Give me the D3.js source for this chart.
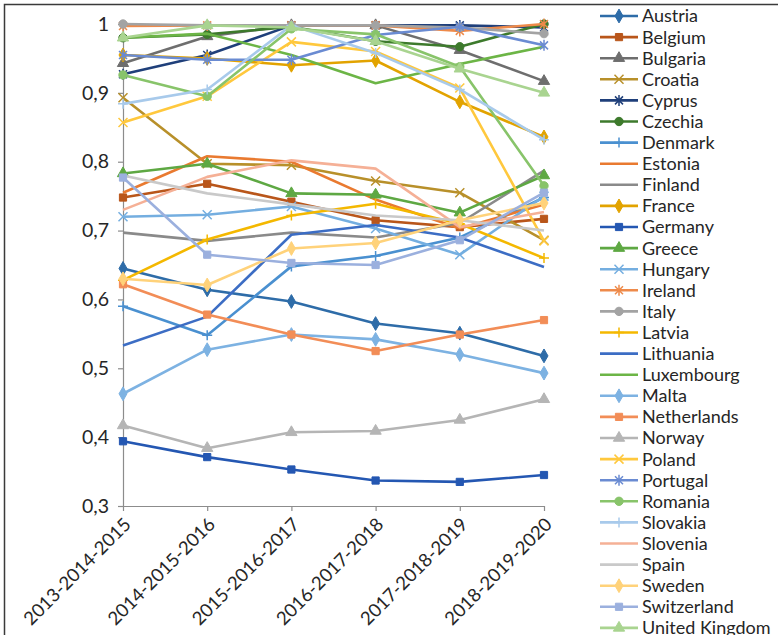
<!DOCTYPE html>
<html>
<head>
<meta charset="utf-8">
<script src="https://cdn.jsdelivr.net/npm/d3@7"></script>
<style>
  body { margin: 0; background: #ffffff; }
  svg text { font-family: Lato, "Open Sans", "Noto Sans", sans-serif; fill: #262626; }
</style>
</head>
<body>
<svg id="chart" width="778" height="635"></svg>
<script>
// Three-year rolling periods on the category axis
const periods = ["2013-2014-2015", "2014-2015-2016", "2015-2016-2017",
                 "2016-2017-2018", "2017-2018-2019", "2018-2019-2020"];

// Y axis ticks
const yTicks = [0.3, 0.4, 0.5, 0.6, 0.7, 0.8, 0.9, 1];

// Index value per country and period
const austria     = [0.645, 0.614, 0.597, 0.565, 0.551, 0.518];
const belgium     = [0.748, 0.768, 0.742, 0.715, 0.705, 0.717];
const bulgaria    = [0.943, 0.982, 0.998, 0.998, 0.962, 0.917];
const croatia     = [0.893, 0.797, 0.795, 0.772, 0.755, 0.686];
const cyprus      = [0.927, 0.955, 0.998, 0.998, 0.998, 0.995];
const czechia     = [0.980, 0.985, 0.996, 0.975, 0.967, 1.000];
const denmark     = [0.590, 0.548, 0.648, 0.663, 0.690, 0.748];
const estonia     = [0.755, 0.808, 0.800, 0.745, 0.703, 0.738];
const finland     = [0.697, 0.685, 0.697, 0.690, 0.711, 0.787];
const france      = [0.955, 0.950, 0.940, 0.947, 0.887, 0.836];
const germany     = [0.394, 0.371, 0.353, 0.337, 0.335, 0.345];
const greece      = [0.783, 0.797, 0.754, 0.752, 0.726, 0.780];
const hungary     = [0.720, 0.723, 0.735, 0.703, 0.665, 0.750];
const ireland     = [0.997, 0.998, 0.998, 0.998, 0.990, 1.000];
const italy       = [1.000, 0.998, 0.998, 0.998, 0.995, 0.986];
const latvia      = [0.628, 0.687, 0.722, 0.739, 0.710, 0.660];
const lithuania   = [0.533, 0.575, 0.694, 0.708, 0.690, 0.647];
const luxembourg  = [0.980, 0.986, 0.955, 0.914, 0.942, 0.967];
const malta       = [0.463, 0.527, 0.549, 0.542, 0.520, 0.493];
const netherlands = [0.622, 0.578, 0.549, 0.525, 0.549, 0.570];
const norway      = [0.417, 0.384, 0.407, 0.409, 0.425, 0.455];
const poland      = [0.857, 0.895, 0.974, 0.960, 0.907, 0.685];
const portugal    = [0.955, 0.948, 0.948, 0.984, 0.996, 0.969];
const romania     = [0.926, 0.895, 0.993, 0.985, 0.938, 0.765];
const slovakia    = [0.884, 0.905, 0.998, 0.958, 0.905, 0.832];
const slovenia    = [0.730, 0.778, 0.802, 0.790, 0.705, 0.727];
const spain       = [0.780, 0.754, 0.738, 0.722, 0.715, 0.700];
const sweden      = [0.630, 0.621, 0.674, 0.682, 0.715, 0.740];
const switzerland = [0.777, 0.665, 0.653, 0.650, 0.686, 0.755];
const unitedKingdom = [0.980, 0.998, 0.995, 0.975, 0.935, 0.900];

const countries = ["Austria", "Belgium", "Bulgaria", "Croatia", "Cyprus", "Czechia",
  "Denmark", "Estonia", "Finland", "France", "Germany", "Greece", "Hungary", "Ireland",
  "Italy", "Latvia", "Lithuania", "Luxembourg", "Malta", "Netherlands", "Norway",
  "Poland", "Portugal", "Romania", "Slovakia", "Slovenia", "Spain", "Sweden",
  "Switzerland", "United Kingdom"];

const seriesValues = [austria, belgium, bulgaria, croatia, cyprus, czechia, denmark,
  estonia, finland, france, germany, greece, hungary, ireland, italy, latvia, lithuania,
  luxembourg, malta, netherlands, norway, poland, portugal, romania, slovakia, slovenia,
  spain, sweden, switzerland, unitedKingdom];

const colors = ["#2E6CA8", "#B9561A", "#6E6E6E", "#B8902A", "#1F3F7A", "#3D7A2C",
  "#4A90D0", "#E97A30", "#8A8A8A", "#E2A300", "#2457B2", "#5EA843",
  "#74AEE0", "#EE8A4A", "#A3A3A3", "#F4B800", "#3C6DC4", "#6CB546",
  "#7DB2E2", "#F28D57", "#B5B5B5", "#FFC83D", "#6A8BD2", "#88C46A",
  "#A8CAEB", "#F5B096", "#C9C9C9", "#FFD27A", "#9BB0DE", "#A9D490"];

const markerTypes = ["diamond", "square", "triangle", "x", "star", "circle", "plus", "none", "none",
  "diamond", "square", "triangle", "x", "star", "circle", "plus", "none", "none",
  "diamond", "square", "triangle", "x", "star", "circle", "plus", "none", "none",
  "diamond", "square", "triangle"];

const series = countries.map((name, i) => ({
  name, color: colors[i], marker: markerTypes[i],
  points: periods.map((p, j) => ({ period: p, value: seriesValues[i][j] }))
}));

const svg = d3.select("#chart");
const axisColor = "#8C8C8C";

// outer chart border (top and left edges fall inside the view)
svg.append("rect")
  .attr("x", 4.5).attr("y", 4.5).attr("width", 900).attr("height", 800)
  .attr("fill", "none").attr("stroke", "#3a3a3a").attr("stroke-width", 1.5);

const x = d3.scalePoint().domain(periods).range([123, 544]);
const y = d3.scaleLinear().domain([0.3, 1]).range([506, 24]);

const commaFmt = d3.formatLocale({ decimal: ",", thousands: ".", grouping: [3], currency: ["", "€"] })
  .format(".1f");
const yFormat = v => (Math.abs(v - 1) < 1e-9 ? "1" : commaFmt(v));

// Y axis
const yAxis = svg.append("g").attr("transform", `translate(${x(periods[0])},0)`)
  .call(d3.axisLeft(y).tickValues(yTicks).tickFormat(yFormat).tickSize(5).tickPadding(9));
yAxis.select(".domain").attr("stroke", axisColor).attr("stroke-width", 1.2);
yAxis.selectAll(".tick line").attr("stroke", axisColor).attr("stroke-width", 1.2);
yAxis.selectAll(".tick text").style("font-size", "19.5px").attr("fill", "#262626");

// X axis
const xAxis = svg.append("g").attr("transform", `translate(0,${y(0.3)})`)
  .call(d3.axisBottom(x).tickSize(5).tickSizeOuter(0));
xAxis.select(".domain").attr("stroke", axisColor).attr("stroke-width", 1.2);
xAxis.selectAll(".tick line").attr("stroke", axisColor).attr("stroke-width", 1.2);
xAxis.selectAll(".tick text")
  .style("font-size", "18.5px").attr("fill", "#262626")
  .attr("text-anchor", "end")
  .attr("dy", "0.35em")
  .attr("transform", "translate(4,15) rotate(-45)")
  .attr("x", 0).attr("y", 0);

// marker shapes
function markerPath(type) {
  switch (type) {
    case "diamond": return d3.symbol(d3.symbolDiamond, 55)();
    case "square": return d3.symbol(d3.symbolSquare, 52)();
    case "triangle": return d3.symbol(d3.symbolTriangle, 55)();
    case "circle": return d3.symbol(d3.symbolCircle, 55)();
    case "x": return "M-4.5,-4.5L4.5,4.5M-4.5,4.5L4.5,-4.5";
    case "plus": return "M-5,0L5,0M0,-5L0,5";
    case "star": return "M-4,-4L4,4M-4,4L4,-4M0,-5.5L0,5.5";
    default: return null;
  }
}
const stroked = t => t === "x" || t === "plus" || t === "star";

function drawMarker(g, type, color, cx, cy) {
  const d = markerPath(type);
  if (!d) return;
  g.append("path")
    .attr("d", d)
    .attr("transform", `translate(${cx},${cy})`)
    .attr("fill", stroked(type) ? "none" : color)
    .attr("stroke", color)
    .attr("stroke-width", stroked(type) ? 1.5 : 1);
}

const line = d3.line().x(d => x(d.period)).y(d => y(d.value));

const plot = svg.append("g");
series.forEach(s => {
  const g = plot.append("g");
  g.append("path").datum(s.points)
    .attr("d", line)
    .attr("fill", "none")
    .attr("stroke", s.color)
    .attr("stroke-width", 2.6)
    .attr("stroke-linejoin", "round");
  s.points.forEach(p => drawMarker(g, s.marker, s.color, x(p.period), y(p.value)));
});

// Legend
const legend = svg.append("g");
series.forEach((s, i) => {
  const cy = 16 + i * 21.1;
  const g = legend.append("g");
  g.append("line").attr("x1", 600).attr("x2", 638).attr("y1", cy).attr("y2", cy)
    .attr("stroke", s.color).attr("stroke-width", 2.6);
  drawMarker(g, s.marker, s.color, 619, cy);
  g.append("text").attr("x", 642).attr("y", cy).attr("dy", "0.36em")
    .style("font-size", "18px").text(s.name);
});
</script>
</body>
</html>
